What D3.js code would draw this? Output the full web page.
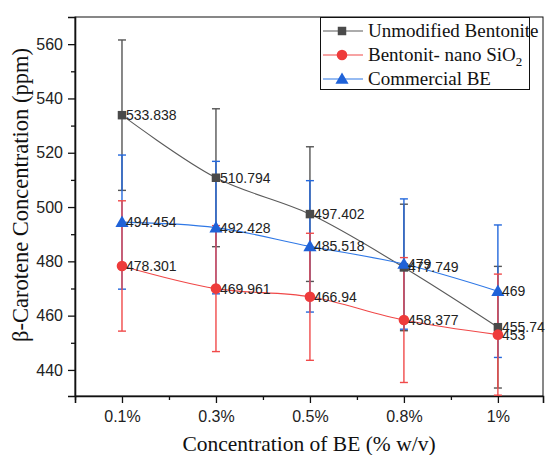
<!DOCTYPE html>
<head>
  <meta charset="utf-8">
  <script src="https://d3js.org/d3.v7.min.js"></script>
  <style>
    body { margin: 0; background: #fff; }
    .tick-label { font-family: "Liberation Sans", Arial, sans-serif; font-size: 16px; fill: #222; }
    .val-label { font-family: "Liberation Sans", Arial, sans-serif; font-size: 14px; fill: #222; }
    .title { font-family: "Liberation Serif", "Times New Roman", serif; font-size: 21.5px; fill: #111; }
    .legend-text { font-family: "Liberation Serif", "Times New Roman", serif; font-size: 19px; fill: #111; }
  </style>
</head>
<body>
<div id="root"></div>
<script>
// ---- data ----
var categories = ["0.1%", "0.3%", "0.5%", "0.8%", "1%"];
var yTicks = [440, 460, 480, 500, 520, 540, 560];

var unmodified    = [533.838, 510.794, 497.402, 477.749, 455.74];
var unmodifiedErr = [27.7, 25.4, 24.8, 23.3, 22.4];

var nanoSiO2      = [478.301, 469.961, 466.94, 458.377, 453];
var nanoSiO2Err   = [24.0, 23.2, 23.4, 23.0, 22.3];

var commercial    = [494.454, 492.428, 485.518, 479, 469];
var commercialErr = [24.7, 24.4, 24.2, 24.0, 24.4];

var labelsUnmod = ["533.838", "510.794", "497.402", "477.749", "455.74"];
var labelsNano  = ["478.301", "469.961", "466.94", "458.377", "453"];
var labelsComm  = ["494.454", "492.428", "485.518", "479", "469"];

// ---- layout ----
var W = 546, H = 455;
var mLeft = 75, mRight = 543, mTop = 17, mBottom = 396;

var svg = d3.select("#root").append("svg")
  .attr("width", W).attr("height", H);

var x = d3.scaleLinear().domain([-0.5, 4.48]).range([mLeft, mRight]);
var y = d3.scaleLinear().domain([430.4, 570]).range([mBottom, mTop]);

// frame (top + right thin)
svg.append("rect")
  .attr("x", mLeft).attr("y", mTop)
  .attr("width", mRight - mLeft).attr("height", mBottom - mTop)
  .attr("fill", "none").attr("stroke", "#111").attr("stroke-width", 1);

// y axis
var yAxis = d3.axisLeft(y).tickValues(yTicks).tickSize(7).tickPadding(5).tickFormat(d3.format("d"));
var gy = svg.append("g").attr("transform", "translate(" + mLeft + ",0)").call(yAxis);
gy.select(".domain").attr("stroke", "#111").attr("stroke-width", 1.6);
gy.selectAll(".tick line").attr("stroke", "#111").attr("stroke-width", 1.3);
gy.selectAll(".tick text").attr("class", "tick-label").attr("fill", null);
// minor y
svg.append("g").attr("transform", "translate(" + mLeft + ",0)")
  .call(d3.axisLeft(y).tickValues([450, 470, 490, 510, 530, 550]).tickSize(4).tickFormat(""))
  .call(function(g) { g.select(".domain").remove(); })
  .selectAll(".tick line").attr("stroke", "#111").attr("stroke-width", 1.3);

// x axis
var xAxis = d3.axisBottom(x).tickValues([0, 1, 2, 3, 4]).tickSize(7).tickPadding(8)
  .tickFormat(function(d) { return categories[d]; });
var gx = svg.append("g").attr("transform", "translate(0," + mBottom + ")").call(xAxis);
gx.select(".domain").attr("stroke", "#111").attr("stroke-width", 1.6);
gx.selectAll(".tick line").attr("stroke", "#111").attr("stroke-width", 1.3);
gx.selectAll(".tick text").attr("class", "tick-label").attr("fill", null);
// minor x
svg.append("g").attr("transform", "translate(0," + mBottom + ")")
  .call(d3.axisBottom(x).tickValues([-0.5, 0.5, 1.5, 2.5, 3.5]).tickSize(4).tickFormat(""))
  .call(function(g) { g.select(".domain").remove(); })
  .selectAll(".tick line").attr("stroke", "#111").attr("stroke-width", 1.3);

// axis titles
svg.append("text").attr("class", "title")
  .attr("x", 309).attr("y", 451).attr("text-anchor", "middle")
  .text("Concentration of BE (% w/v)");
svg.append("text").attr("class", "title")
  .attr("transform", "translate(28,195) rotate(-90)")
  .attr("text-anchor", "middle")
  .style("font-size", "22.5px")
  .text("β-Carotene Concentration (ppm)");

// ---- series ----
var series = [
  { name: "Unmodified Bentonite", vals: unmodified, err: unmodifiedErr, labels: labelsUnmod,
    line: "#5a5a5a", bar: "#555", mark: "#4a4a4a", shape: "square" },
  { name: "Commercial BE", vals: commercial, err: commercialErr, labels: labelsComm,
    line: "#2f78e6", bar: "#2468dc", mark: "#1f62d8", shape: "triangle" },
  { name: "Bentonit- nano SiO2", vals: nanoSiO2, err: nanoSiO2Err, labels: labelsNano,
    line: "#f04848", bar: "#f04a4a", mark: "#ee3b3b", shape: "circle" }
];

var lineGen = d3.line()
  .x(function(d, i) { return x(i); })
  .y(function(d) { return y(d); })
  .curve(d3.curveCatmullRom.alpha(0.5));

var symbols = {
  square: d3.symbol().type(d3.symbolSquare).size(72),
  circle: d3.symbol().type(d3.symbolCircle).size(88),
  triangle: d3.symbol().type(d3.symbolTriangle).size(75)
};

// lines first
series.forEach(function(s) {
  svg.append("path").datum(s.vals)
    .attr("d", lineGen)
    .attr("fill", "none").attr("stroke", s.line).attr("stroke-width", 1.1);
});

// error bars
series.forEach(function(s) {
  var g = svg.append("g");
  var idx = d3.range(s.vals.length);
  g.selectAll("line.v").data(idx).enter().append("line")
    .attr("x1", function(i) { return x(i); }).attr("x2", function(i) { return x(i); })
    .attr("y1", function(i) { return y(s.vals[i] + s.err[i]); })
    .attr("y2", function(i) { return y(s.vals[i] - s.err[i]); })
    .attr("stroke", s.bar).attr("stroke-width", 1.4);
  [1, -1].forEach(function(sign) {
    g.selectAll("line.c" + sign).data(idx).enter().append("line")
      .attr("x1", function(i) { return x(i) - 4; }).attr("x2", function(i) { return x(i) + 4; })
      .attr("y1", function(i) { return y(s.vals[i] + sign * s.err[i]); })
      .attr("y2", function(i) { return y(s.vals[i] + sign * s.err[i]); })
      .attr("stroke", s.bar).attr("stroke-width", 1.4);
  });
});

// markers + value labels
series.forEach(function(s) {
  svg.append("g").selectAll("path").data(s.vals).enter().append("path")
    .attr("d", symbols[s.shape])
    .attr("transform", function(d, i) {
      var dy = s.shape === "triangle" ? 1 : 0;
      return "translate(" + x(i) + "," + (y(d) + dy) + ")";
    })
    .attr("fill", s.mark);
});
series.forEach(function(s) {
  svg.append("g").selectAll("text").data(s.vals).enter().append("text")
    .attr("class", "val-label")
    .attr("x", function(d, i) { return x(i) + 4; })
    .attr("y", function(d) { return y(d) + 5; })
    .text(function(d, i) { return s.labels[i]; });
});

// ---- legend ----
var lg = svg.append("g");
lg.append("rect").attr("x", 320.5).attr("y", 17.5).attr("width", 209).attr("height", 72)
  .attr("fill", "#fff").attr("stroke", "#111").attr("stroke-width", 1);
var legendOrder = [series[0], series[2], series[1]];
legendOrder.forEach(function(s, i) {
  var ly = 31 + i * 24;
  lg.append("line").attr("x1", 323).attr("x2", 363).attr("y1", ly).attr("y2", ly)
    .attr("stroke", s.line).attr("stroke-width", 1.2);
  lg.append("path").attr("d", symbols[s.shape])
    .attr("transform", "translate(342," + (ly + (s.shape === "triangle" ? 1 : 0)) + ")")
    .attr("fill", s.mark);
  var t = lg.append("text").attr("class", "legend-text").attr("x", 368).attr("y", ly + 6);
  if (s.shape === "circle") {
    t.append("tspan").text("Bentonit- nano SiO");
    t.append("tspan").attr("dy", 5).attr("font-size", "13px").text("2");
  } else {
    t.text(s.name);
  }
});
</script>
</body>
